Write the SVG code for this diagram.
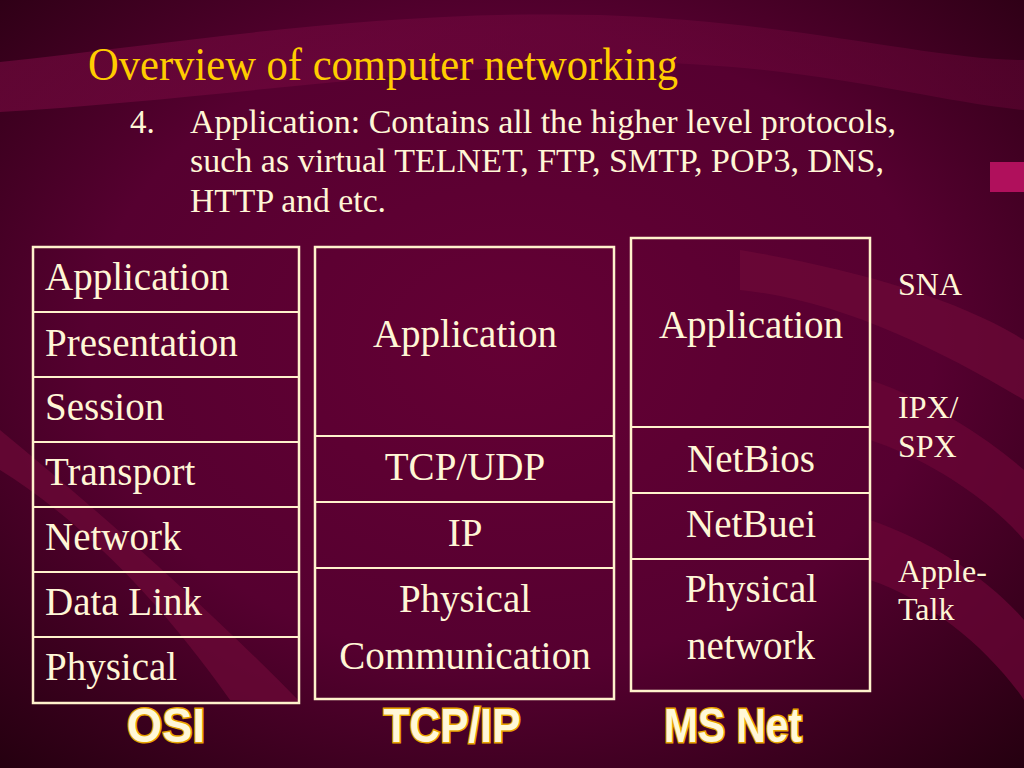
<svg xmlns="http://www.w3.org/2000/svg" width="1024" height="768" viewBox="0 0 1024 768">
<defs>
<radialGradient id="bg" cx="0.5" cy="0.45" r="0.75">
<stop offset="0" stop-color="#640034"/>
<stop offset="0.55" stop-color="#560030"/>
<stop offset="1" stop-color="#24000f"/>
</radialGradient>
<linearGradient id="sw" x1="0" y1="0" x2="1" y2="0">
<stop offset="0" stop-color="#7a0a42" stop-opacity="0.9"/>
<stop offset="1" stop-color="#6a0638" stop-opacity="0.7"/>
</linearGradient>
<style>
.box{fill:none;stroke:#fff2cc;stroke-width:2.5}
.ln{stroke:#fff2cc;stroke-width:2}
.t{font-family:"Liberation Serif","Times New Roman",serif;fill:#fff6d6}
.osi{font-size:39px}
.c{text-anchor:middle}
.side{font-size:32px}
.lbl{font-family:"Liberation Sans",Arial,sans-serif;font-weight:bold;font-size:48px;fill:#fff8d8;stroke:#e6a200;stroke-width:3;paint-order:stroke;text-anchor:middle}
</style>
</defs>
<rect width="1024" height="768" fill="url(#bg)"/>
<g id="background-swooshes">
<path d="M0,62 C200,40 380,10 600,15 C800,22 930,60 1024,60 L1024,110 C920,100 800,60 600,62 C400,70 200,100 0,112 Z" fill="url(#sw)" opacity="0.65"/>
<path d="M0,470 C80,520 160,600 230,700 L300,702 C220,620 110,520 0,430 Z" fill="#6e0838" opacity="0.7"/>
<path d="M740,250 C860,270 960,300 1024,340 L1024,400 C940,350 840,300 740,290 Z" fill="#6e0838" opacity="0.7"/>
<path d="M870,380 C930,400 990,440 1024,470 L1024,540 C990,500 930,460 870,440 Z" fill="#6a0636" opacity="0.75"/>
<path d="M870,520 C930,540 990,580 1024,620 L1024,700 C990,650 930,600 870,580 Z" fill="#6a0636" opacity="0.75"/>
<rect x="990" y="162" width="34" height="30" fill="#b0105c"/>
</g>
<g id="title">
<text x="88" y="80" class="t" font-size="46" style="fill:#ffcc00" textLength="590" lengthAdjust="spacingAndGlyphs">Overview of computer networking</text>
</g>
<g id="body" class="t" font-size="33">
<text x="130" y="133">4.</text>
<text x="190" y="133" textLength="706" lengthAdjust="spacingAndGlyphs">Application: Contains all the higher level protocols,</text>
<text x="190" y="172" textLength="694" lengthAdjust="spacingAndGlyphs">such as virtual TELNET, FTP, SMTP, POP3, DNS,</text>
<text x="190" y="212" textLength="196" lengthAdjust="spacingAndGlyphs">HTTP and etc.</text>
</g>
<g id="osi">
<rect class="box" x="33" y="247" width="266" height="456"/>
<line class="ln" x1="33" y1="312" x2="299" y2="312"/>
<line class="ln" x1="33" y1="377" x2="299" y2="377"/>
<line class="ln" x1="33" y1="442" x2="299" y2="442"/>
<line class="ln" x1="33" y1="507" x2="299" y2="507"/>
<line class="ln" x1="33" y1="572" x2="299" y2="572"/>
<line class="ln" x1="33" y1="637" x2="299" y2="637"/>
<text class="t osi" x="45" y="290">Application</text>
<text class="t osi" x="45" y="356">Presentation</text>
<text class="t osi" x="45" y="420">Session</text>
<text class="t osi" x="45" y="485">Transport</text>
<text class="t osi" x="45" y="550">Network</text>
<text class="t osi" x="45" y="615">Data Link</text>
<text class="t osi" x="45" y="680">Physical</text>
</g>
<g id="tcpip">
<rect class="box" x="315" y="247" width="299" height="452"/>
<line class="ln" x1="315" y1="436" x2="614" y2="436"/>
<line class="ln" x1="315" y1="502" x2="614" y2="502"/>
<line class="ln" x1="315" y1="568" x2="614" y2="568"/>
<text class="t osi c" x="465" y="347">Application</text>
<text class="t osi c" x="465" y="480">TCP/UDP</text>
<text class="t osi c" x="465" y="546">IP</text>
<text class="t osi c" x="465" y="612">Physical</text>
<text class="t osi c" x="465" y="669">Communication</text>
</g>
<g id="msnet">
<rect class="box" x="631" y="238" width="239" height="453"/>
<line class="ln" x1="631" y1="427" x2="870" y2="427"/>
<line class="ln" x1="631" y1="493" x2="870" y2="493"/>
<line class="ln" x1="631" y1="559" x2="870" y2="559"/>
<text class="t osi c" x="751" y="338">Application</text>
<text class="t osi c" x="751" y="472">NetBios</text>
<text class="t osi c" x="751" y="537">NetBuei</text>
<text class="t osi c" x="751" y="602">Physical</text>
<text class="t osi c" x="751" y="659">network</text>
</g>
<g id="others">
<text class="t side" x="898" y="295">SNA</text>
<text class="t side" x="898" y="418">IPX/</text>
<text class="t side" x="898" y="457">SPX</text>
<text class="t side" x="898" y="582">Apple-</text>
<text class="t side" x="898" y="620">Talk</text>
</g>
<g id="labels">
<text class="lbl" x="166" y="742" textLength="78" lengthAdjust="spacingAndGlyphs">OSI</text>
<text class="lbl" x="452" y="742" textLength="137" lengthAdjust="spacingAndGlyphs">TCP/IP</text>
<text class="lbl" x="733" y="742" textLength="138" lengthAdjust="spacingAndGlyphs">MS Net</text>
</g>
</svg>
